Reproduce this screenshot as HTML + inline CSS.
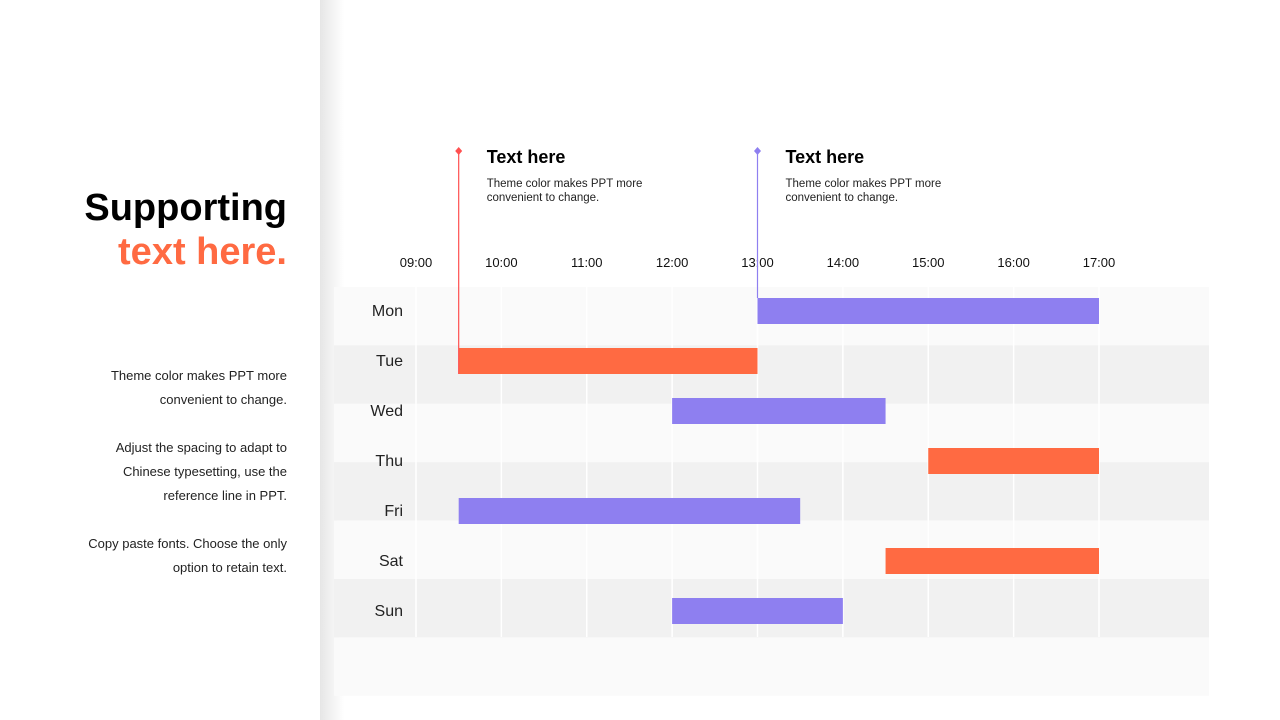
<!DOCTYPE html>
<html><head><meta charset="utf-8"><style>
body{margin:0;width:1280px;height:720px;overflow:hidden;background:#fff;font-family:"Liberation Sans",sans-serif;position:relative}
.shadow{position:absolute;left:320px;top:0;width:24px;height:720px;background:linear-gradient(to right,#e6e6e6,#fff)}
.title{position:absolute;right:993px;top:186px;text-align:right;font-weight:bold;font-size:38px;line-height:44px}
.side{position:absolute;right:993px;text-align:right;font-size:13px;line-height:24px;color:#222}
</style></head><body>
<div class="shadow"></div>
<div class="title"><span style="color:#000">Supporting</span><br><span style="color:#ff6a42">text here.</span></div>
<div class="side" style="top:364px">Theme color makes PPT more<br>convenient to change.</div>
<div class="side" style="top:436px">Adjust the spacing to adapt to<br>Chinese typesetting, use the<br>reference line in PPT.</div>
<div class="side" style="top:532px">Copy paste  fonts. Choose the only<br>option to retain text.</div>
<svg id="c" width="1280" height="720" style="position:absolute;left:0;top:0"></svg>
<script>
const days=["Mon","Tue","Wed","Thu","Fri","Sat","Sun"];
const starts=[13,9.5,12,15,9.5,14.5,12];
const ends=[17,13,14.5,17,13.5,17,14];
const colors=["#8e7ff0","#ff6a42","#8e7ff0","#ff6a42","#8e7ff0","#ff6a42","#8e7ff0"];
const ticks=["09:00","10:00","11:00","12:00","13:00","14:00","15:00","16:00","17:00"];
const notes=[{t:9.5,end:374,color:"#ff5050"},{t:13,end:298,color:"#8e7ff0"}];
const ns="http://www.w3.org/2000/svg",svg=document.getElementById("c");
const x=h=>416+(h-9)*85.375;
function mk(tag,a,txt){const e=document.createElementNS(ns,tag);for(const k in a)e.setAttribute(k,a[k]);if(txt!=null)e.textContent=txt;svg.appendChild(e);return e;}
days.forEach((d,i)=>{
 const b=mk("rect",{x:334,y:287+58.4*i,width:875,height:58.4,fill:i%2?"#f1f1f1":"#fafafa"});
 
 
});
ticks.forEach((t,i)=>{
 const l=mk("line",{x1:x(9+i),x2:x(9+i),y1:287,y2:637,stroke:"#fff","stroke-width":1.5});
 
 
 const tx=mk("text",{x:x(9+i),y:267,"text-anchor":"middle","font-size":13,fill:"#111"},t);
 
 
});
days.forEach((d,i)=>{
 const cy=311+50*i;
 const lb=mk("text",{x:403,y:cy+5,"text-anchor":"end","font-size":16,fill:"#222"},d);
 
 
 const r=mk("rect",{x:x(starts[i]),y:cy-13,width:x(ends[i])-x(starts[i]),height:26,fill:colors[i]});
 
 
});
notes.forEach((n,i)=>{
 const xx=x(n.t);
 const l=mk("line",{x1:xx,x2:xx,y1:151,y2:n.end,stroke:n.color,"stroke-width":1.2});
 
 
 const p=mk("path",{d:`M${xx} 147L${xx+3.5} 151L${xx} 155L${xx-3.5} 151Z`,fill:n.color});
 
 
 const h=mk("text",{x:xx+28,y:163,"font-size":18,"font-weight":"bold",fill:"#000"},"Text here");
 
 
 const a=mk("text",{x:xx+28,y:187,"font-size":11.5,fill:"#222"},"Theme color makes PPT more");
 
 
 const b=mk("text",{x:xx+28,y:201,"font-size":11.5,fill:"#222"},"convenient to change.");
 
 
});
</script>
</body></html>
